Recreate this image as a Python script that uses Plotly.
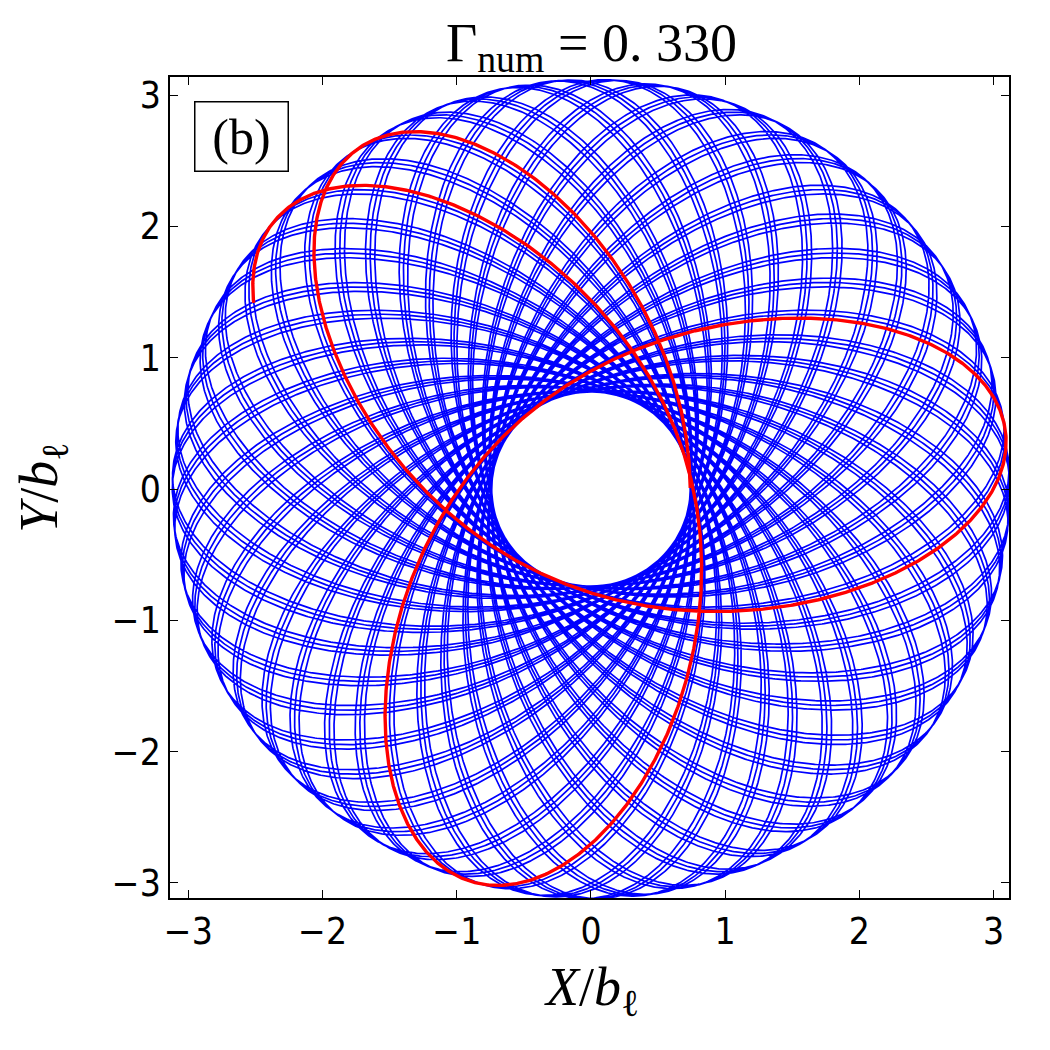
import numpy as np
import plotly.graph_objects as go

# ---- values ----
r_peri = 0.74            # radius of the empty hole (closest approach)
r_apo = 3.12             # outer rim radius (farthest approach)
phi_start_deg = 0.7      # angle of the first pericentre (start of the red track)
petal_groups = 47        # number of petal groups around the rosette
turns_per_cycle = 32     # full turns made while visiting all petal groups once
group_shift_deg = 1.1    # angular shift between the lines of one group
lines_per_group = 3
red_end_xy = (-2.49, 1.42)   # where the red track stops
x_ticks = [-3, -2, -1, 0, 1, 2, 3]
y_ticks = [-3, -2, -1, 0, 1, 2, 3]
x_range = [-3.137, 3.115]
y_range = [-3.115, 3.138]
title_text = "Γ<sub>num</sub> = 0. 330"
panel_label = "(b)"

# ---- orbit in a softened central potential, apsides fixed by r_peri / r_apo ----
c0 = 0.5 * (r_apo + r_peri)
a0 = 0.5 * (r_apo - r_peri)


def pot(r, b):
    return -1.0 / np.sqrt(r * r + b * b)


def half_orbit(b, N=20000):
    th = np.linspace(0.0, np.pi, N + 1)
    tm = 0.5 * (th[1:] + th[:-1])
    r = c0 - a0 * np.cos(tm)
    L2 = 2 * (pot(r_apo, b) - pot(r_peri, b)) / (1 / r_peri ** 2 - 1 / r_apo ** 2)
    E = pot(r_peri, b) + L2 / (2 * r_peri ** 2)
    f = 2 * (E - pot(r, b)) - L2 / r ** 2
    integ = np.sqrt(L2) / r ** 2 * a0 * np.sin(tm) / np.sqrt(np.maximum(f, 1e-300))
    ph = np.concatenate([[0.0], np.cumsum(integ) * (np.pi / N)])
    return th, ph


target = np.deg2rad((360.0 * turns_per_cycle + group_shift_deg) / petal_groups)
lo, hi = np.log(0.01), np.log(100.0)
for _ in range(60):
    mid = 0.5 * (lo + hi)
    if 2 * half_orbit(np.exp(mid))[1][-1] > target:
        lo = mid
    else:
        hi = mid
b_soft = np.exp(0.5 * (lo + hi))
th_f, ph_f = half_orbit(b_soft)
dphi = 2 * ph_f[-1]

m = 300
th_s = np.linspace(0, np.pi, m + 1)
ph_s = np.interp(th_s, th_f, ph_f)
th_p = np.concatenate([th_s[:-1], 2 * np.pi - th_s[::-1][:-1]])
ph_p = np.concatenate([ph_s[:-1], dphi - ph_s[::-1][:-1]])
r_p = c0 - a0 * np.cos(th_p)


def orbit(n_periods):
    phis = np.concatenate([ph_p + k * dphi for k in range(n_periods)])
    rs = np.tile(r_p, n_periods)
    phis = phis + np.deg2rad(phi_start_deg)
    return rs * np.cos(phis), rs * np.sin(phis)


bx, by = orbit(lines_per_group * petal_groups)
bx = np.append(bx, bx[0]); by = np.append(by, by[0])

rx, ry = orbit(4)
start = int(3.5 * len(r_p))
d = (rx[start:] - red_end_xy[0]) ** 2 + (ry[start:] - red_end_xy[1]) ** 2
end = start + int(np.argmin(d)) + 1
rx, ry = rx[:end], ry[:end]

fig = go.Figure()
fig.add_trace(go.Scatter(x=bx, y=by, mode="lines", line=dict(color="#0000ff", width=1.7),
                         hoverinfo="skip", showlegend=False))
fig.add_trace(go.Scatter(x=rx, y=ry, mode="lines", line=dict(color="#ff0000", width=3.4),
                         hoverinfo="skip", showlegend=False))

tick_font = dict(family="DejaVu Sans Condensed, Liberation Sans Narrow, DejaVu Sans", size=37, color="black")
axis_common = dict(showgrid=False, zeroline=False, showline=True, linecolor="black", linewidth=1.5,
                   mirror="ticks", ticks="inside", ticklen=8, tickwidth=1, tickcolor="black",
                   tickfont=tick_font)
fig.update_xaxes(range=x_range, tickvals=x_ticks, ticktext=[("−" if v < 0 else "") + str(abs(v)) for v in x_ticks],
                 **axis_common)
fig.update_yaxes(range=y_range, tickvals=y_ticks, ticktext=[("−" if v < 0 else "") + str(abs(v)) for v in y_ticks],
                 **axis_common)

serif = "Liberation Serif, DejaVu Serif, serif"
fig.update_layout(
    width=1050, height=1050,
    margin=dict(l=170, r=41, t=77, b=152),
    paper_bgcolor="white", plot_bgcolor="white",
    annotations=[
        dict(text=title_text, xref="paper", yref="paper", x=0.502, y=1.0, xanchor="center",
             yanchor="bottom", yshift=-5, showarrow=False, font=dict(family=serif, size=54, color="black")),
        dict(text="<i>X</i>/<i>b</i><sub>ℓ</sub>", xref="paper", yref="paper", x=0.502, y=-0.07,
             xanchor="center", yanchor="top", showarrow=False,
             font=dict(family=serif, size=54, color="black")),
        dict(text="<i>Y</i>/<i>b</i><sub>ℓ</sub>", xref="paper", yref="paper", x=-0.11, y=0.5,
             xanchor="right", yanchor="middle", textangle=-90, showarrow=False,
             font=dict(family=serif, size=54, color="black")),
        dict(text=panel_label, xref="paper", yref="paper", x=0.0858, y=0.927, xanchor="center",
             yanchor="middle", showarrow=False, width=90, height=66,
             font=dict(family=serif, size=50, color="black"), bordercolor="black", borderwidth=1.5,
             borderpad=1, bgcolor="white"),
    ],
)
fig.write_html("out.html")
